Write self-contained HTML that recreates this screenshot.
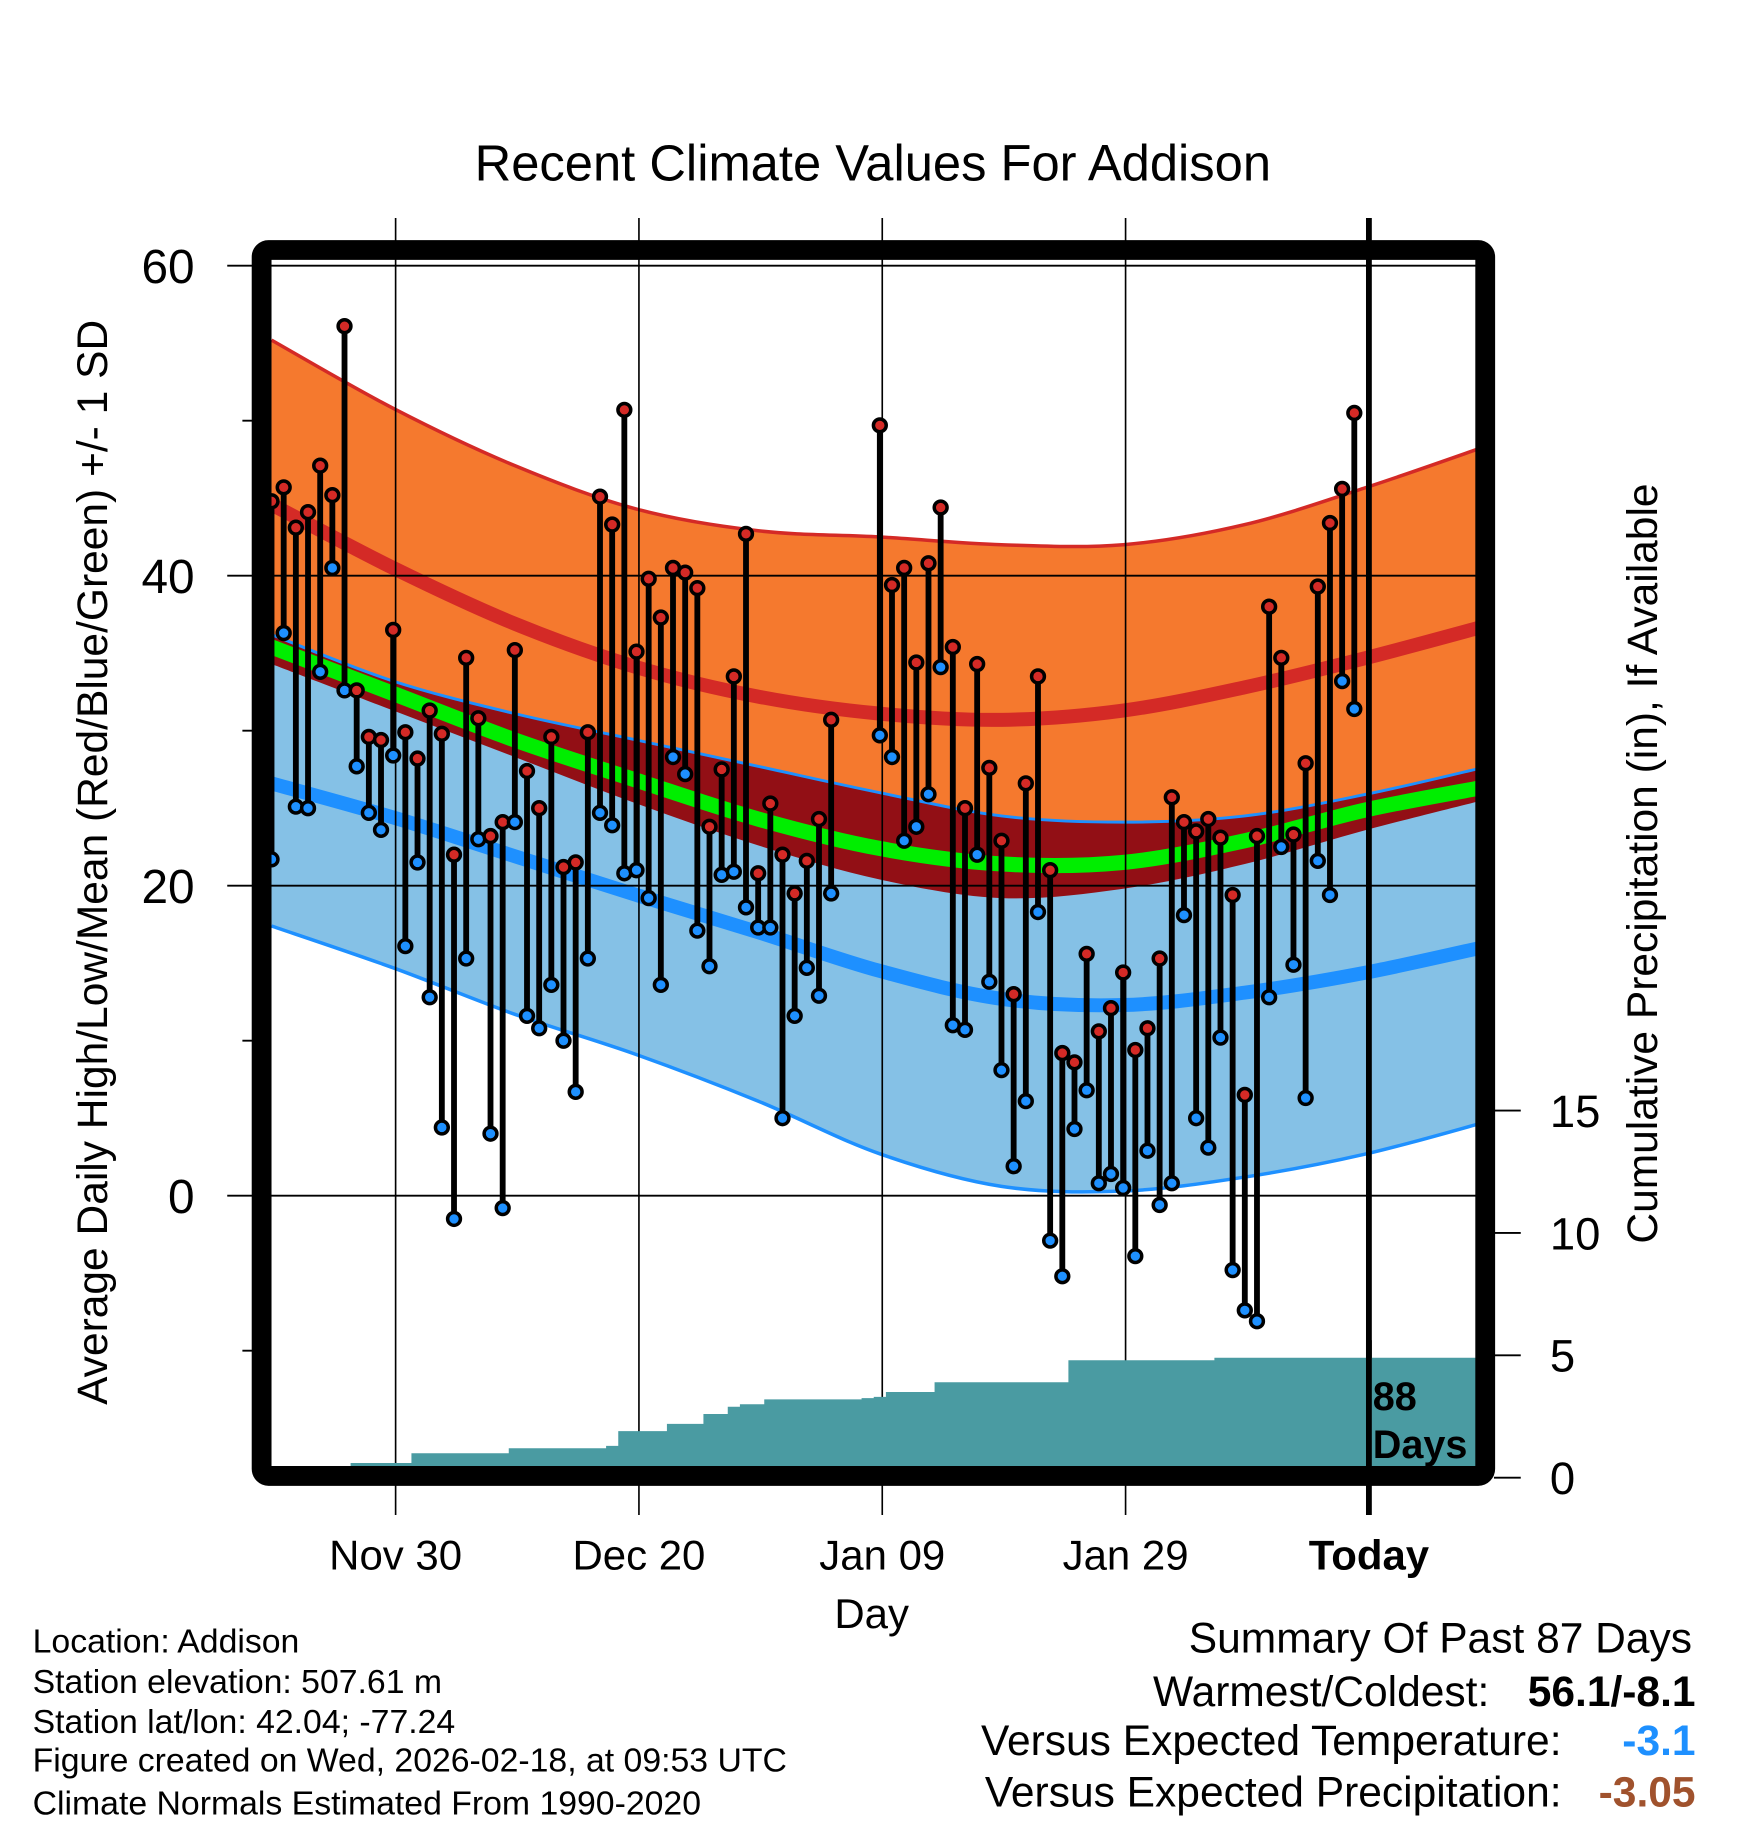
<!DOCTYPE html>
<html><head><meta charset="utf-8"><style>
html,body{margin:0;padding:0;background:#fff}
svg{display:block}
text{font-family:"Liberation Sans",Arial,sans-serif}
</style></head><body>
<svg id="chart" width="1748" height="1828" viewBox="0 0 1500 1568.6" xmlns="http://www.w3.org/2000/svg">
<text x="749" y="155" font-size="43.5" text-anchor="middle">Recent Climate Values For Addison</text>
<g id="bands"></g>
<g id="grid"></g>
<g id="precip"></g>
<g id="stems"></g>
<g id="axes"></g>
<text transform="translate(92,740) rotate(-90)" font-size="36.5" text-anchor="middle">Average Daily High/Low/Mean (Red/Blue/Green) +/- 1 SD</text>
<text transform="translate(1422,741) rotate(-90)" font-size="36.5" text-anchor="middle">Cumulative Precipitation (in), If Available</text>
<text x="748" y="1397" font-size="36" text-anchor="middle">Day</text>
<g font-size="29">
<text x="28" y="1418">Location: Addison</text>
<text x="28" y="1453">Station elevation: 507.61 m</text>
<text x="28" y="1487">Station lat/lon: 42.04; -77.24</text>
<text x="28" y="1520">Figure created on Wed, 2026-02-18, at 09:53 UTC</text>
<text x="28" y="1557">Climate Normals Estimated From 1990-2020</text>
</g>
<g font-size="36.5">
<text x="1452" y="1418" text-anchor="end">Summary Of Past 87 Days</text>
<text x="1278" y="1464" text-anchor="end">Warmest/Coldest:</text>
<text x="1455" y="1464" text-anchor="end" font-weight="bold">56.1/-8.1</text>
<text x="1340" y="1506" text-anchor="end">Versus Expected Temperature:</text>
<text x="1455" y="1506" text-anchor="end" font-weight="bold" fill="#1e90ff">-3.1</text>
<text x="1340" y="1550" text-anchor="end">Versus Expected Precipitation:</text>
<text x="1455" y="1550" text-anchor="end" font-weight="bold" fill="#a0522d">-3.05</text>
</g>
</svg>
<script>
// ---- data ----
var highs=[44.8,45.7,43.1,44.1,47.1,45.2,56.1,32.6,29.6,29.4,36.5,29.9,28.2,31.3,29.8,22.0,34.7,30.8,23.2,24.1,35.2,27.4,25.0,29.6,21.2,21.5,29.9,45.1,43.3,50.7,35.1,39.8,37.3,40.5,40.2,39.2,23.8,27.5,33.5,42.7,20.8,25.3,22.0,19.5,21.6,24.3,30.7,null,null,null,49.7,39.4,40.5,34.4,40.8,44.4,35.4,25.0,34.3,27.6,22.9,13.0,26.6,33.5,21.0,9.2,8.6,15.6,10.6,12.1,14.4,9.4,10.8,15.3,25.7,24.1,23.5,24.3,23.1,19.4,6.5,23.2,38.0,34.7,23.3,27.9,39.3,43.4,45.6,50.5];
var lows=[21.7,36.3,25.1,25.0,33.8,40.5,32.6,27.7,24.7,23.6,28.4,16.1,21.5,12.8,4.4,-1.5,15.3,23.0,4.0,-0.8,24.1,11.6,10.8,13.6,10.0,6.7,15.3,24.7,23.9,20.8,21.0,19.2,13.6,28.3,27.2,17.1,14.8,20.7,20.9,18.6,17.3,17.3,5.0,11.6,14.7,12.9,19.5,null,null,null,29.7,28.3,22.9,23.8,25.9,34.1,11.0,10.7,22.0,13.8,8.1,1.9,6.1,18.3,-2.9,-5.2,4.3,6.8,0.8,1.4,0.5,-3.9,2.9,-0.6,0.8,18.1,5.0,3.1,10.2,-4.8,-7.4,-8.1,12.8,22.5,14.9,6.3,21.6,19.4,33.2,31.4];
var precip=[0,0,0,0,0,0,0,0.6,0.6,0.6,0.6,0.6,1.0,1.0,1.0,1.0,1.0,1.0,1.0,1.0,1.2,1.2,1.2,1.2,1.2,1.2,1.2,1.2,1.3,1.9,1.9,1.9,1.9,2.2,2.2,2.2,2.6,2.6,2.9,3.0,3.0,3.2,3.2,3.2,3.2,3.2,3.2,3.2,3.2,3.25,3.3,3.5,3.5,3.5,3.5,3.9,3.9,3.9,3.9,3.9,3.9,3.9,3.9,3.9,3.9,3.9,4.8,4.8,4.8,4.8,4.8,4.8,4.8,4.8,4.8,4.8,4.8,4.8,4.9,4.9,4.9,4.9,4.9,4.9,4.9,4.9,4.9,4.9,4.9,4.9];
var normDays=[0,10,20,30,40,50,60,70,80,90,100];
var highPlusSD=[55.2,50.8,47.1,44.3,42.9,42.5,42.0,42.0,43.3,45.7,48.4];
var highMean=[44.6,40.5,36.9,34.1,32.2,31.1,30.7,31.3,32.8,34.7,36.8];
var highMinusSD=[34.3,31.3,28.3,25.3,22.6,20.4,19.2,19.8,21.4,23.6,25.6];
var lowPlusSD=[36.2,33.2,31.1,29.4,27.7,26.0,24.5,24.1,24.5,25.9,27.7];
var meanTemp=[35.4,32.4,29.4,26.8,24.3,22.4,21.4,21.5,22.9,24.9,26.4];
var lowMean=[26.6,24.4,21.9,19.4,17.0,14.5,12.7,12.3,13.1,14.4,16.1];
var lowMinusSD=[17.4,14.7,11.7,9.1,6.1,2.7,0.6,0.3,1.2,2.7,4.8];
var yTicks=[0,20,40,60];
var yMinor=[-10,10,30,50];
var pTicks=[0,5,10,15];
var xTickDays=[10.2,30.2,50.2,70.2,90.2];
var xTickLabels=["Nov 30","Dec 20","Jan 09","Jan 29","Today"];
// ---- scales ----
var L=231,R=1268,T=221,B=1260;
function X(d){return 233+d*10.44;}
function Y(t){return 1026-t*13.3;}
function P(p){return 1268-p*21;}
var NS="http://www.w3.org/2000/svg";
function mk(tag,attrs,parent){var e=document.createElementNS(NS,tag);for(var k in attrs)e.setAttribute(k,attrs[k]);parent.appendChild(e);return e;}
function pts(arr){return normDays.map(function(d,i){return [X(d),Y(arr[i])];});}
function curve(p,move){var s=move?"M"+p[0][0]+","+p[0][1]:"L"+p[0][0]+","+p[0][1];
 for(var i=0;i<p.length-1;i++){var p0=p[Math.max(i-1,0)],p1=p[i],p2=p[i+1],p3=p[Math.min(i+2,p.length-1)];
  s+=" C"+(p1[0]+(p2[0]-p0[0])/6)+","+(p1[1]+(p2[1]-p0[1])/6)+" "+(p2[0]-(p3[0]-p1[0])/6)+","+(p2[1]-(p3[1]-p1[1])/6)+" "+p2[0]+","+p2[1];}
 return s;}
function band(a,b){var pa=pts(a),pb=pts(b).reverse();return curve(pa,true)+" "+curve(pb,false)+" Z";}
var svg=document.getElementById('chart');
var defs=mk('defs',{},svg);var cp=mk('clipPath',{id:'plotclip'},defs);mk('rect',{x:L,y:T,width:R-L,height:B-T},cp);
var bands=document.getElementById('bands');bands.setAttribute('clip-path','url(#plotclip)');
var e;
e=mk('path',{d:band(highPlusSD,highMinusSD),fill:'#f5792e'},bands);


e=mk('path',{d:band(lowPlusSD,lowMinusSD),fill:'#85c1e6'},bands);


e=mk('path',{d:band(lowPlusSD,highMinusSD),fill:'#920f15'},bands);


function line(arr,col,w,name){var el=mk('path',{d:curve(pts(arr),true),fill:'none',stroke:col,'stroke-width':w},bands);
 
 }
line(highPlusSD,'#d42a26',3,'high-plus-sd-line');
line(lowPlusSD,'#1e90ff',2.5,'low-plus-sd-line');
line(lowMinusSD,'#1e90ff',3,'low-minus-sd-line');
line(highMean,'#d42a26',12,'mean-high-line');
line(lowMean,'#1e90ff',12,'mean-low-line');
line(meanTemp,'#00ee00',13,'mean-temp-line');
// grid
var grid=document.getElementById('grid');
yTicks.forEach(function(t){e=mk('line',{x1:195,x2:R,y1:Y(t),y2:Y(t),stroke:'#000','stroke-width':1.6},grid);
 
 
 e=mk('text',{x:167,y:Y(t)+15,'font-size':41,'text-anchor':'end'},grid);e.textContent=t;
 
 });
yMinor.forEach(function(t){e=mk('line',{x1:208,x2:222,y1:Y(t),y2:Y(t),stroke:'#000','stroke-width':1.6},grid);
 
 });
xTickDays.forEach(function(d,i){var last=i==xTickDays.length-1;
 e=mk('line',{x1:X(d),x2:X(d),y1:187,y2:1300,stroke:'#000','stroke-width':last?5:1.4},grid);
 
 
 e=mk('text',{x:X(d),y:1347,'font-size':36,'text-anchor':'middle','font-weight':last?'bold':'normal'},grid);e.textContent=xTickLabels[i];
 
 });
// precip
var pg=document.getElementById('precip');
var d="M"+L+","+B;
precip.forEach(function(p,i){var x0=(i==0)?L:X(i)-5.22;var x1=(i==precip.length-1)?R:X(i)+5.22;d+=" L"+x0+","+P(p)+" L"+x1+","+P(p);});
d+=" L"+R+","+B+" Z";
e=mk('path',{d:d,fill:'#4a9ba2'},pg);


e=mk('line',{x1:X(90.2),x2:X(90.2),y1:1150,y2:1262,stroke:'#000','stroke-width':5},pg);


e=mk('text',{x:1178,y:1210,'font-size':34,'font-weight':'bold'},pg);e.textContent='88';


e=mk('text',{x:1178,y:1251,'font-size':34,'font-weight':'bold'},pg);e.textContent='Days';


// stems
var sg=document.getElementById('stems');
highs.forEach(function(h,i){var l=lows[i];if(h==null)return;var x=X(i);
 e=mk('line',{x1:x,x2:x,y1:Y(h),y2:Y(l),stroke:'#000','stroke-width':5},sg);
 
 });
highs.forEach(function(h,i){var l=lows[i];if(h==null)return;var x=X(i);
 e=mk('circle',{cx:x,cy:Y(l),r:5.5,fill:'#1e90ff',stroke:'#000','stroke-width':3},sg);
 
 
 e=mk('circle',{cx:x,cy:Y(h),r:5.5,fill:'#d42a26',stroke:'#000','stroke-width':3},sg);
 
 });
// frame and right axis
var ax=document.getElementById('axes');
e=mk('rect',{x:L-6.5,y:T-6.5,width:R-L+13,height:B-T+13,rx:6,fill:'none',stroke:'#000','stroke-width':17},ax);


pTicks.forEach(function(p){e=mk('line',{x1:R+14,x2:1305,y1:P(p),y2:P(p),stroke:'#000','stroke-width':1.6},ax);
 
 
 e=mk('text',{x:1330,y:P(p)+14,'font-size':39},ax);e.textContent=p;
 
 });
</script>
</body></html>
